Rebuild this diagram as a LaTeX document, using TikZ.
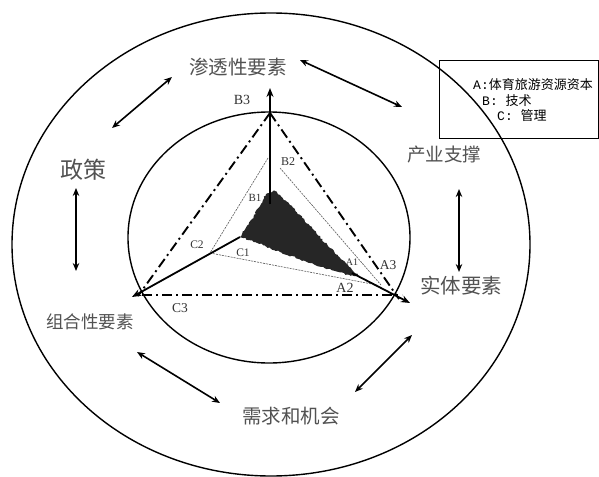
\documentclass[tikz,border=0pt]{standalone}
\usepackage{fontspec}
\setmainfont{Liberation Serif}
\newfontfamily\cjk{Noto Sans CJK SC}
\newfontfamily\monof{Liberation Mono}
\usetikzlibrary{arrows.meta,decorations.pathmorphing}
\begin{document}
\pgfmathsetseed{7}
\begin{tikzpicture}[x=1pt,y=-1pt,
  ring/.style={line width=1.4pt},
  mainarrow/.style={line width=1.8pt,-{Stealth[length=9pt,width=7pt]}},
  dbl/.style={line width=1.6pt,{Stealth[length=8pt,width=6.5pt]}-{Stealth[length=8pt,width=6.5pt]}},
  dashdot/.style={line width=1.9pt,dash pattern=on 10pt off 4pt on 2pt off 4pt},
  thinline/.style={line width=0.6pt,black!65,dash pattern=on 2pt off 1pt},
  zh/.style={font=\cjk\fontsize{#1}{#1}\selectfont,text=black!68,inner sep=0pt},
  lab/.style={font=\fontsize{#1}{#1}\selectfont,text=black!80,inner sep=0pt},
  leg/.style={font=\fontsize{13}{13}\selectfont,text=black,inner sep=0pt,anchor=west},
]
\useasboundingbox (0,0) rectangle (599,476);
\fill[white] (0,0) rectangle (599,476);

% rings
\draw[ring] (271,244.5) ellipse [x radius=259pt, y radius=231.5pt];
\draw[ring] (269,237.5) ellipse [x radius=141pt, y radius=125.5pt];

% key coordinates
\coordinate (apex) at (270,113);
\coordinate (dl) at (138,296);
\coordinate (dr) at (399,299);
\coordinate (hl) at (142,295);
\coordinate (hr) at (402,295);
\coordinate (tB) at (268,158);
\coordinate (tB2) at (280,168);
\coordinate (tC) at (210,253);
\coordinate (tA) at (381,285);
\coordinate (tA2) at (377,285);

% dash-dot outer triangle
\draw[dashdot] (apex) -- (dl);
\draw[dashdot] (apex) -- (dr);
\draw[dashdot] (hl) -- (hr);

% thin inner triangle
\draw[thinline] (tB) -- (tC);
\draw[thinline] (tB2) -- (tA);
\draw[thinline] (tC) -- (tA2);

% shaded core
\fill[black!85, decorate, decoration={random steps,segment length=2pt,amplitude=0.9pt}]
  (266,194) -- (275,191) -- (290,205) -- (310,226) -- (330,248) -- (347,264)
  -- (358,275) -- (351,276) -- (335,271) -- (310,263) -- (280,252) -- (255,242)
  -- (240,237) -- (244,231) -- (252,219) -- (261,204) -- cycle;

% three axes
\coordinate (o1) at (270,204);
\coordinate (o2) at (240,237);
\coordinate (o3) at (352,273);
\coordinate (e1) at (270,88);
\coordinate (e2) at (132,297);
\coordinate (e3) at (410,303);
\draw[mainarrow] (o1) -- (e1);
\draw[mainarrow] (o2) -- (e2);
\draw[mainarrow] (o3) -- (e3);

% outer double arrows
\coordinate (d1a) at (112,128); \coordinate (d1b) at (172,77);
\coordinate (d2a) at (300,60);  \coordinate (d2b) at (402,107);
\coordinate (d3a) at (76,188);  \coordinate (d3b) at (76,271);
\coordinate (d4a) at (459,189); \coordinate (d4b) at (459,272);
\coordinate (d5a) at (137,352); \coordinate (d5b) at (220,403);
\coordinate (d6a) at (412,335); \coordinate (d6b) at (355,392);
\draw[dbl] (d1a) -- (d1b);
\draw[dbl] (d2a) -- (d2b);
\draw[dbl] (d3a) -- (d3b);
\draw[dbl] (d4a) -- (d4b);
\draw[dbl] (d5a) -- (d5b);
\draw[dbl] (d6a) -- (d6b);

% Chinese labels
\node[zh=19.5] (p1) at (238,67) {渗透性要素};
\node[zh=23] (p2) at (83,170) {政策};
\node[zh=18.5] (p3) at (444,155) {产业支撑};
\node[zh=20.5] (p4) at (461,286) {实体要素};
\node[zh=17.5] (p5) at (90,322) {组合性要素};
\node[zh=19.5] (p6) at (291,416) {需求和机会};

% letter labels
\node[lab=14] (B3) at (242,100) {B3};
\node[lab=12] (B2) at (288,162) {B2};
\node[lab=11] (B1) at (255,198) {B1};
\node[lab=11.5] (C2) at (197,245) {C2};
\node[lab=11.5] (C1) at (243,253) {C1};
\node[lab=13.5] (C3) at (180,308) {C3};
\node[lab=10] (A1) at (352,262) {A1};
\node[lab=13.5] (A3) at (388,265) {A3};
\node[lab=14] (A2) at (345,288) {A2};

% legend
\node[draw,line width=0.9pt,anchor=north west,minimum width=159pt,minimum height=78pt,inner sep=0pt] (legend) at (439,60) {};
\node[leg] (la) at (473,85) {{\monof A:}{\cjk 体育旅游资源资本}};
\node[leg] (lb) at (482,101) {{\monof B: }{\cjk 技术}};
\node[leg] (lc) at (497,116) {{\monof C: }{\cjk 管理}};
\end{tikzpicture}
\end{document}
